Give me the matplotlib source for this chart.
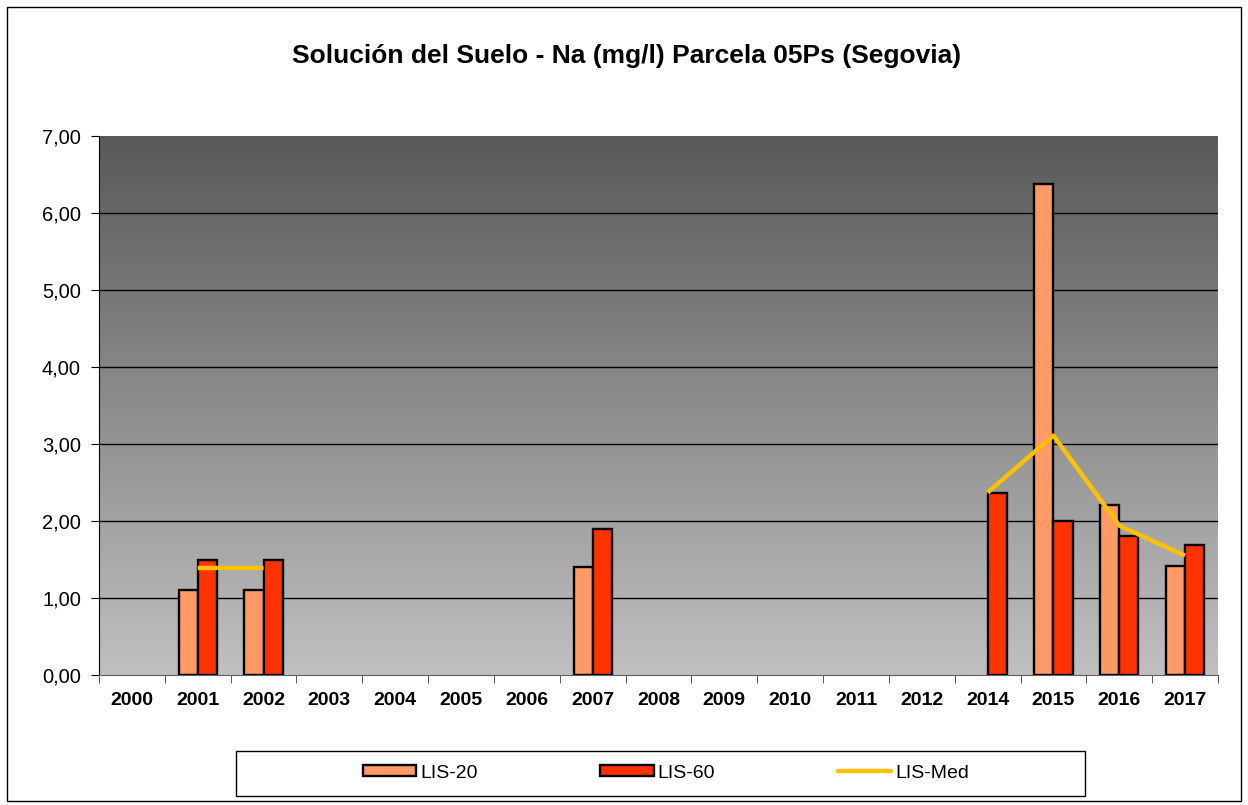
import numpy as np
import matplotlib
matplotlib.use("Agg")
import matplotlib.pyplot as plt
from matplotlib.patches import Rectangle
from matplotlib.ticker import FuncFormatter, FixedLocator
from matplotlib.lines import Line2D
from matplotlib.patches import Patch

plt.rcParams['font.family'] = ['Liberation Sans', 'DejaVu Sans']

years = ['2000', '2001', '2002', '2003', '2004', '2005', '2006', '2007', '2008',
         '2009', '2010', '2011', '2012', '2014', '2015', '2016', '2017']
nan = np.nan
lis20 = [nan, 1.10, 1.10, nan, nan, nan, nan, 1.40, nan,
         nan, nan, nan, nan, nan, 6.38, 2.21, 1.41]
lis60 = [nan, 1.50, 1.50, nan, nan, nan, nan, 1.89, nan,
         nan, nan, nan, nan, 2.37, 2.00, 1.80, 1.69]
lismed = [nan, 1.39, 1.39, nan, nan, nan, nan, nan, nan,
          nan, nan, nan, nan, 2.37, 3.11, 1.94, 1.55]

W, H = 1248, 805
fig = plt.figure(figsize=(W / 100, H / 100), dpi=100)
fig.patch.set_facecolor('white')

# outer chart frame
fig.add_artist(Rectangle((7 / W, 1 - 801 / H), (1241 - 7) / W, (801 - 7) / H,
                         transform=fig.transFigure, fill=False,
                         edgecolor='black', linewidth=1.0))

left, right, top, bottom = 99, 1218, 136, 675
ax = fig.add_axes([left / W, 1 - bottom / H, (right - left) / W, (bottom - top) / H])

x = np.arange(len(years))
ax.set_xlim(-0.5, len(years) - 0.5)
ax.set_ylim(0, 7)

# vertical grey gradient behind the plot
grad = np.linspace(0, 1, 256).reshape(-1, 1)
top_c = np.array([0x59, 0x59, 0x59]) / 255
bot_c = np.array([0xc0, 0xc0, 0xc0]) / 255
img = top_c + (bot_c - top_c) * grad[:, :, None] * np.ones((1, 2, 1))
ax.imshow(img, extent=[-0.5, len(years) - 0.5, 0, 7], origin='upper',
          aspect='auto', zorder=0, interpolation='bilinear')

ax.set_yticks(np.arange(0, 8, 1))
ax.yaxis.set_major_formatter(FuncFormatter(lambda v, p: f"{v:.2f}".replace('.', ',')))
# horizontal gridlines at the inner ticks
ax.hlines(np.arange(1, 7), -0.5, len(years) - 0.5, colors='black',
          linewidth=1.0, zorder=1)

bw = 0.29
ax.bar(x - bw / 2, lis20, width=bw, color='#FF9966', edgecolor='black',
       linewidth=1.7, zorder=3, label='LIS-20')
ax.bar(x + bw / 2, lis60, width=bw, color='#FF3300', edgecolor='black',
       linewidth=1.7, zorder=3, label='LIS-60')
ax.plot(x, lismed, color='#FFC000', linewidth=3.2, zorder=4,
        solid_capstyle='butt', label='LIS-Med')

ax.set_xticks(x)
ax.set_xticklabels(years, fontweight='bold', fontsize=14)
ax.xaxis.set_minor_locator(FixedLocator(np.arange(-0.5, len(years), 1)))
ax.tick_params(axis='x', which='major', length=0, pad=12)
ax.tick_params(axis='x', which='minor', length=6, color='#404040', direction='out')
ax.tick_params(axis='y', length=6, color='black', labelsize=14.5, pad=7)

for s in ['top', 'right']:
    ax.spines[s].set_visible(False)
ax.spines['left'].set_color('black')
ax.spines['bottom'].set_color('#606060')

fig.text(627 / W, 1 - 56 / H, 'Solución del Suelo - Na (mg/l) Parcela 05Ps (Segovia)',
         ha='center', va='center', fontsize=19, fontweight='bold')

# legend with its own box
fig.add_artist(Rectangle((236 / W, 1 - 796 / H), (1085 - 236) / W, (796 - 751) / H,
                         transform=fig.transFigure, fill=True, facecolor='white',
                         edgecolor='black', linewidth=1.0))
handles = [Patch(facecolor='#FF9966', edgecolor='black', linewidth=1.7),
           Patch(facecolor='#FF3300', edgecolor='black', linewidth=1.7),
           Line2D([0], [0], color='#FFC000', linewidth=3.2, solid_capstyle='round')]
fig.legend(handles, ['LIS-20', 'LIS-60', 'LIS-Med'], loc='center',
           bbox_to_anchor=(666 / W, 1 - 773 / H), ncol=3, frameon=False,
           fontsize=14, handlelength=2.75, handleheight=0.5, handletextpad=0.2,
           columnspacing=6.3)

fig.savefig('out.png', dpi=100)
